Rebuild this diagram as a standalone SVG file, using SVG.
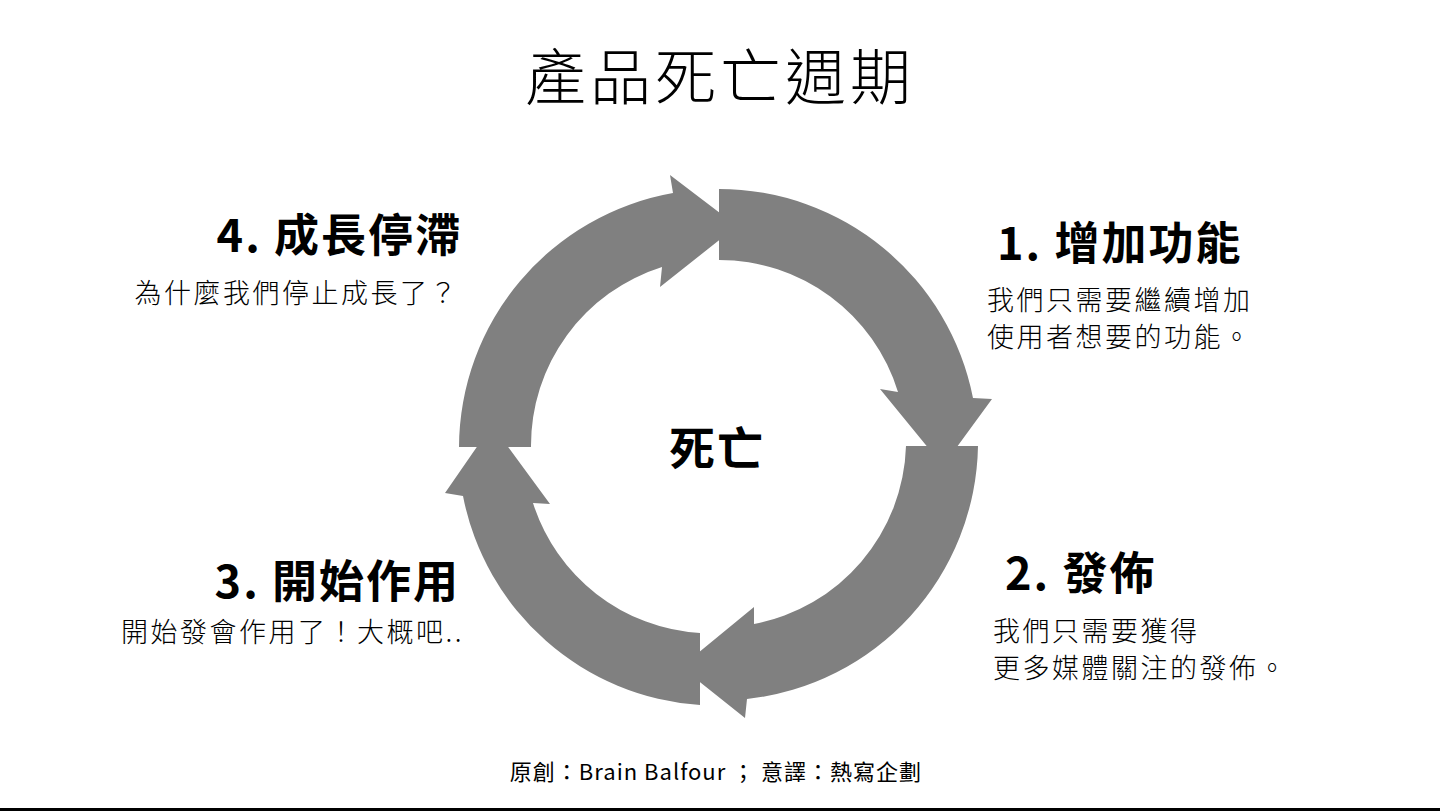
<svg xmlns="http://www.w3.org/2000/svg" width="1440" height="811" viewBox="0 0 1440 811">
<style>
text{font-family:"Noto Sans CJK TC","Noto Sans",sans-serif;fill:#000}
.h{font-size:45px;font-weight:bold;letter-spacing:2px}
.d{font-size:27px;letter-spacing:2.5px;font-weight:300}
.a{fill:#808080}
</style>
<rect width="1440" height="811" fill="#fff"/>
<rect x="0" y="808" width="1440" height="3" fill="#000"/>
<text x="720" y="100" font-size="61" font-weight="300" letter-spacing="4" text-anchor="middle">產品死亡週期</text>
<g id="connectors">
<path class="a" d="M 719,189 A 259 259 0 0 1 973,398 L 992,399 L 943,466 L 880,389 L 898,392 A 187 187 0 0 0 719,260 Z"/>
<path class="a" d="M 978,446 A 259 259 0 0 1 747,699 L 745,718 L 681,667 L 754,607 L 754,624 A 187 187 0 0 0 906,446 Z"/>
<path class="a" d="M 700,705 A 259 259 0 0 1 463,496 L 445,493 L 492,425 L 550,504 L 533,503 A 187 187 0 0 0 700,633 Z"/>
<path class="a" d="M 459,447 A 259 259 0 0 1 673,193 L 670,175 L 737,226 L 660,287 L 662,267 A 187 187 0 0 0 531,447 Z"/>
</g>
<g id="center"><text x="717" y="465" font-size="46" font-weight="bold" letter-spacing="2" text-anchor="middle">死亡</text></g>
<g id="step1">
<text class="h" x="997" y="260">1. 增加功能</text>
<text class="d" x="987" y="310">我們只需要繼續增加</text>
<text class="d" x="987" y="347">使用者想要的功能。</text>
</g>
<g id="step2">
<text class="h" x="1005" y="590">2. 發佈</text>
<text class="d" x="993" y="641">我們只需要獲得</text>
<text class="d" x="993" y="678">更多媒體關注的發佈。</text>
</g>
<g id="step3">
<text class="h" x="460" y="598" text-anchor="end">3. 開始作用</text>
<text class="d" x="464" y="642" text-anchor="end">開始發會作用了！大概吧..</text>
</g>
<g id="step4">
<text class="h" x="462" y="252" text-anchor="end">4. 成長停滯</text>
<text class="d" x="459" y="303" text-anchor="end">為什麼我們停止成長了？</text>
</g>
<text x="716" y="780" font-family="'Liberation Sans','Noto Sans CJK TC',sans-serif" font-size="22" letter-spacing="1" text-anchor="middle">原創：Brain Balfour ； 意譯：熱寫企劃</text>
</svg>
